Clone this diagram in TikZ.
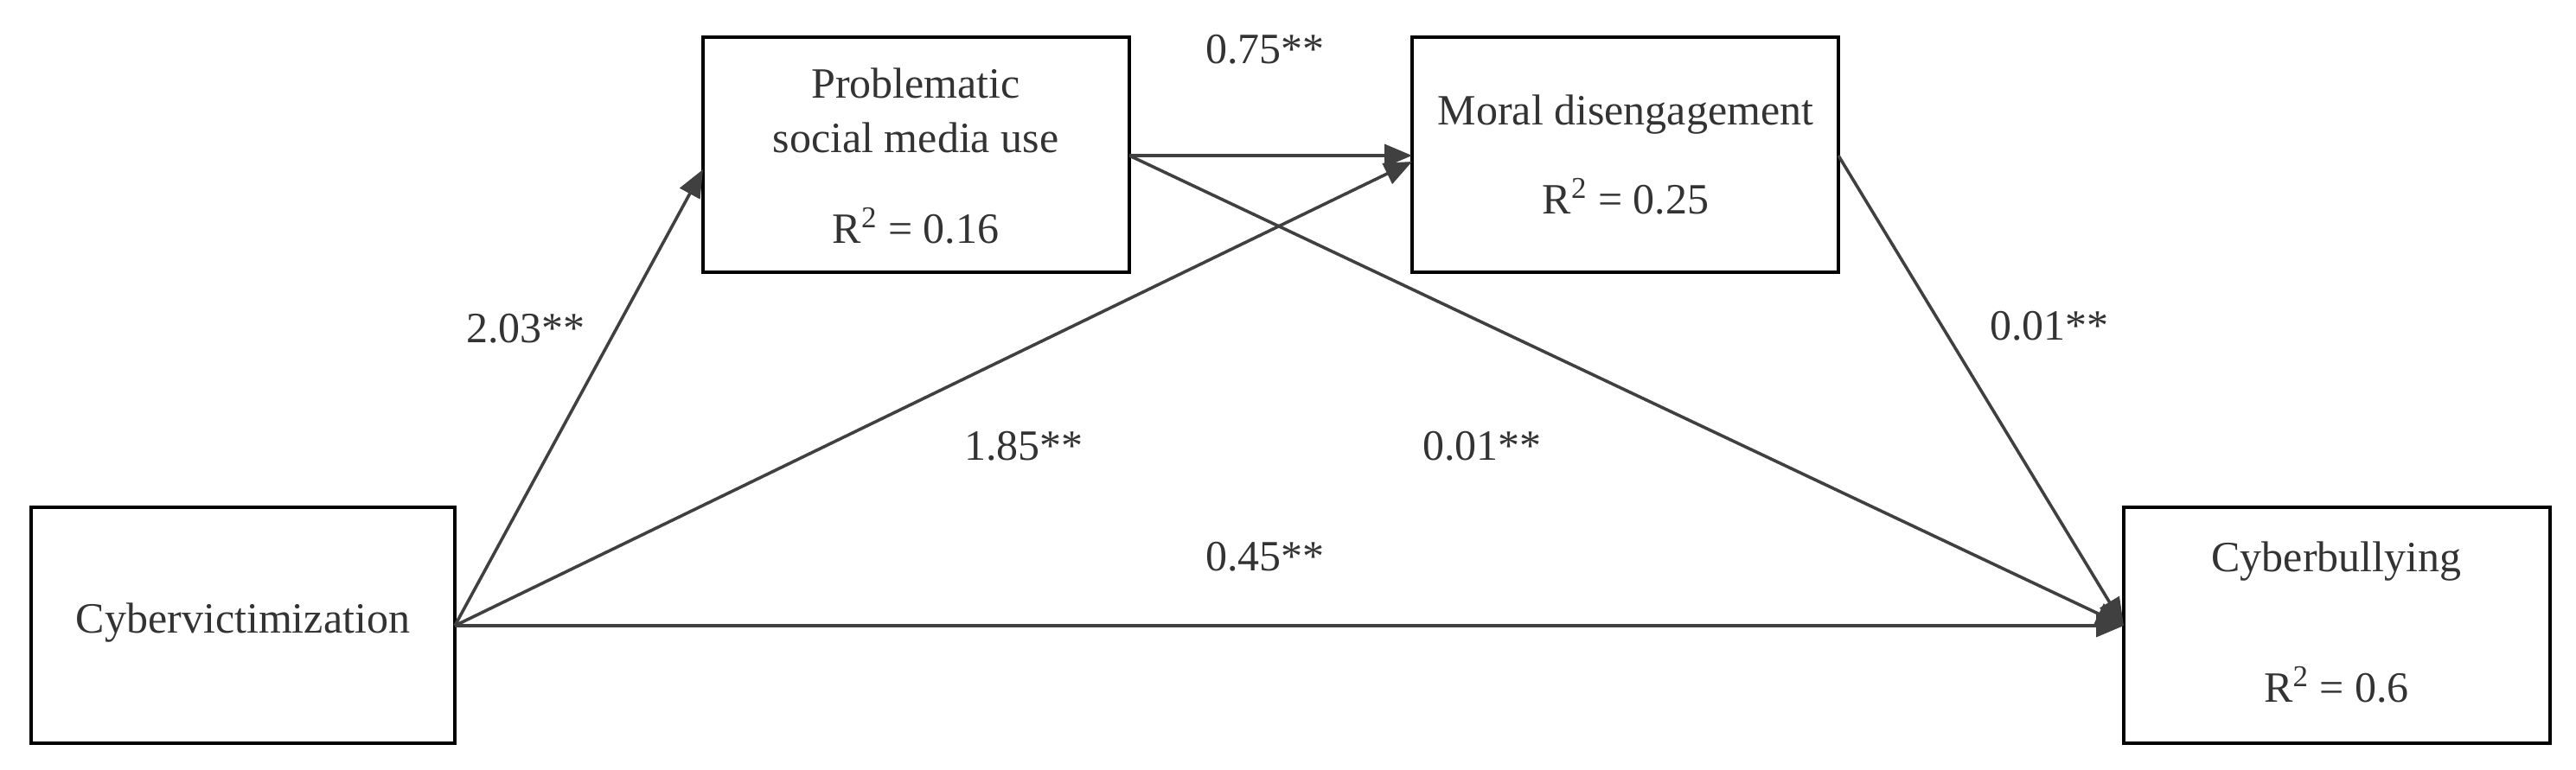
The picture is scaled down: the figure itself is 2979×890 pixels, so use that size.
\documentclass[tikz,border=0pt]{standalone}
\usepackage{fontspec}
\setmainfont{Liberation Serif}
\usetikzlibrary{arrows.meta}
\begin{document}
\begin{tikzpicture}[x=0.5pt,y=-0.5pt,
  box/.style={draw=black,line width=2pt,inner sep=0pt},
  lbl/.style={font=\fontsize{25}{30}\selectfont,text=black!80,inner sep=0pt},
  conn/.style={line width=1.8pt,draw=black!75,-{Triangle[length=16pt,width=13pt]}}]
\useasboundingbox (0,0) rectangle (2979,890);
\draw[box] (36,587) rectangle (526,860);
\draw[box] (813,43) rectangle (1306,315);
\draw[box] (1633,43) rectangle (2126,315);
\draw[box] (2456,587) rectangle (2949,860);
\node[lbl] (cv) at (281,721) {Cybervictimization};
\node[lbl] (p1) at (1059,96) {Problematic};
\node[lbl] (p2) at (1059,159) {social media use};
\node[lbl] (p3) at (1059,261) {R\textsuperscript{2} = 0.16};
\node[lbl] (m1) at (1880,133) {Moral disengagement};
\node[lbl] (m2) at (1880,227) {R\textsuperscript{2} = 0.25};
\node[lbl] (c1) at (2702,650) {Cyberbullying};
\node[lbl] (c2) at (2702,792) {R\textsuperscript{2} = 0.6};
\coordinate (cvE) at (526,724);
\coordinate (psW) at (813,196);
\coordinate (psE) at (1306,180);
\coordinate (mdW) at (1633,180);
\coordinate (mdWl) at (1633,187);
\coordinate (mdE) at (2126,180);
\coordinate (cbW) at (2456,724);
\draw[conn] (cvE) -- (psW);
\draw[conn] (cvE) -- (mdWl);
\draw[conn] (cvE) -- (cbW);
\draw[conn] (psE) -- (mdW);
\draw[conn] (psE) -- (cbW);
\draw[conn] (mdE) -- (cbW);
\node[lbl] (l1) at (1463,57) {0.75**};
\node[lbl] (l2) at (608,380) {2.03**};
\node[lbl] (l3) at (1184,516) {1.85**};
\node[lbl] (l4) at (1463,644) {0.45**};
\node[lbl] (l5) at (1714,516) {0.01**};
\node[lbl] (l6) at (2370,377) {0.01**};
\end{tikzpicture}
\end{document}
